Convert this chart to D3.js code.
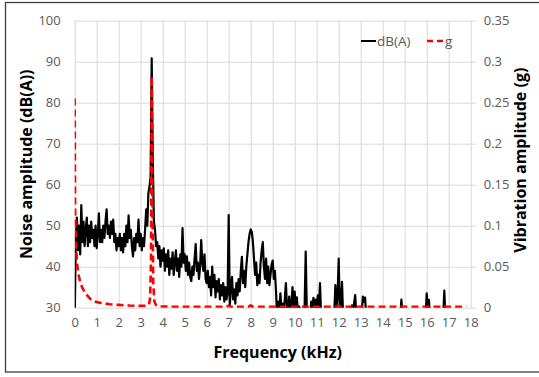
<!DOCTYPE html>
<html>
<head>
<meta charset="utf-8">
<script src="https://cdn.jsdelivr.net/npm/d3@7"></script>
<style>
  body { margin: 0; background: #fff; }
  text { font-family: "Open Sans", sans-serif; }
</style>
</head>
<body>
<figure id="spectrum" style="margin:0"></figure>
<script>
// noise spectrum, [frequency kHz, dB(A)]
const noiseDb = [
  [0,27],[0.05,47],[0.1,52],[0.15,44],[0.2,50],[0.25,43],[0.3,55],[0.35,46],[0.4,51],[0.45,45],
  [0.5,49],[0.55,52],[0.6,45],[0.65,50],[0.7,46],[0.75,51],[0.8,47],[0.85,49],[0.9,45],[0.95,50],
  [1,44.5],[1.05,48],[1.1,53],[1.15,46],[1.2,49],[1.25,46],[1.3,50],[1.35,47],[1.4,51],[1.45,54],
  [1.5,48],[1.55,50],[1.6,47],[1.65,51],[1.7,48],[1.75,51.5],[1.8,46],[1.85,48],[1.9,44],[1.95,47],
  [2,45],[2.05,48],[2.1,44],[2.15,47],[2.2,43.5],[2.25,48],[2.3,45],[2.35,50],[2.4,46],[2.45,52.5],
  [2.5,47],[2.55,49],[2.6,45],[2.65,42.5],[2.7,47],[2.75,44],[2.8,48],[2.85,46],[2.9,51.5],[2.95,45],
  [3,48],[3.05,44],[3.1,47],[3.15,45],[3.2,49],[3.25,54],[3.3,50],[3.35,58],[3.4,59.5],[3.45,62],
  [3.5,90.8],[3.55,66],[3.6,51],[3.65,49],[3.7,45],[3.75,46],[3.8,42],[3.85,45],[3.9,40],[3.95,44],
  [4,41.5],[4.05,44.5],[4.1,39],[4.15,43],[4.2,40],[4.25,44],[4.3,38],[4.35,42],[4.4,39.5],[4.45,43.5],
  [4.5,38],[4.55,41],[4.6,44],[4.65,39],[4.7,42],[4.75,37.5],[4.8,43],[4.85,40],[4.9,49.4],[4.95,41],
  [5,43],[5.05,39],[5.1,42.5],[5.15,38],[5.2,41],[5.25,37.5],[5.3,36.5],[5.35,40],[5.4,38],[5.45,42],
  [5.5,45.5],[5.55,39],[5.6,41],[5.65,37],[5.7,40],[5.75,46.5],[5.8,41],[5.85,39],[5.9,43],[5.95,37],
  [6,36],[6.05,39],[6.1,35],[6.15,37.5],[6.2,33],[6.25,40],[6.3,35],[6.35,38],[6.4,32.5],[6.45,36.5],
  [6.5,34],[6.55,37],[6.6,32],[6.65,35.5],[6.7,33],[6.75,36],[6.8,31.5],[6.85,35],[6.9,32],[6.95,33.5],
  [7,52.6],[7.05,30.5],[7.1,35],[7.15,37.5],[7.2,32],[7.25,34.5],[7.3,31],[7.35,36],[7.4,33],[7.45,37],
  [7.5,34],[7.55,39],[7.6,42.4],[7.65,36],[7.7,39],[7.75,35],[7.8,40],[7.85,43],[7.9,46],[7.95,48],
  [8,49.1],[8.05,48.5],[8.1,46],[8.15,42],[8.2,38],[8.25,41],[8.3,35.5],[8.35,38],[8.4,36],[8.45,41],
  [8.5,44],[8.55,46],[8.6,40],[8.65,37],[8.7,42],[8.75,36],[8.8,40],[8.85,35.5],[8.9,38],[8.95,40.5],
  [9,41.5],[9.05,37],[9.1,39],[9.15,34],[9.2,28],[9.25,31.5],[9.3,29],[9.35,33.5],[9.4,29],[9.45,31],
  [9.5,28.5],[9.55,32],[9.6,36],[9.65,30],[9.7,29],[9.75,32.7],[9.8,28],[9.85,31],[9.9,35],[9.95,30],
  [10,33.9],[10.05,29],[10.1,32.5],[10.15,28],[10.2,30.3],[10.3,29],[10.45,30],[10.5,43.7],[10.55,29],
  [10.7,28],[10.75,31.5],[10.8,29],[10.85,32.4],[10.9,30],[10.95,32],[11,29.5],[11.05,33],[11.1,30],
  [11.15,36],[11.2,28],[11.8,29],[11.85,35.5],[11.9,30],[11.95,33],[12,42],[12.05,29],[12.1,31],
  [12.15,36.3],[12.2,28],[12.55,29],[12.6,30.6],[12.65,29],[12.75,33.1],[12.8,28],[13.05,29],
  [13.1,32.7],[13.15,31.5],[13.2,32.5],[13.25,28],[14.8,28],[14.85,32],[14.9,28],[15.95,28],
  [16,33.5],[16.05,30],[16.1,31.9],[16.15,28],[16.75,28],[16.8,34.2],[16.85,28],[17.8,27]
];

// vibration spectrum, [frequency kHz, g]
const vibG = [
  [0,0.255],[0.02,0.12],[0.06,0.08],[0.1,0.056],[0.16,0.042],[0.25,0.031],[0.35,0.024],[0.5,0.017],
  [0.75,0.0095],[0.9,0.0075],[1.2,0.0058],[1.6,0.0042],[2,0.0034],[2.5,0.0026],[3,0.0022],[3.3,0.0024],
  [3.38,0.004],[3.43,0.013],[3.47,0.06],[3.5,0.282],[3.53,0.14],[3.57,0.03],[3.62,0.008],[3.7,0.003],
  [3.8,0.0015],[5,0.001],[6.9,0.001],[7,0.0025],[7.1,0.001],[7.9,0.001],[8,0.003],[8.1,0.001],
  [11.9,0.001],[12,0.002],[12.1,0.001],[14.8,0.001],[14.9,0.0015],[15,0.001],[16.7,0.001],
  [16.8,0.002],[16.9,0.001],[17.6,0.001],[17.8,0.0025]
];

const freqTicks = d3.range(0, 19);
const dbTicks = [30, 40, 50, 60, 70, 80, 90, 100];
const gTicks = [0, 0.05, 0.1, 0.15, 0.2, 0.25, 0.3, 0.35];

const W = 539, H = 377;
const margin = {top: 20.7, right: 68.3, bottom: 69.3, left: 74.7};
const width = W - margin.left - margin.right,
      height = H - margin.top - margin.bottom;
const labelGrey = "#595959";

const root = d3.select("figure#spectrum")
  .append("svg")
  .attr("width", W)
  .attr("height", H);

// chart frame
root.append("rect")
  .attr("x", 5.5).attr("y", 2.5)
  .attr("width", 545).attr("height", 369.5)
  .attr("fill", "none")
  .attr("stroke", "#3f3f3f")
  .attr("stroke-width", 1.3);

const svg = root.append("g")
  .attr("transform", `translate(${margin.left},${margin.top})`);

const x = d3.scaleLinear().domain([0, 18]).range([0, width]);
const y = d3.scaleLinear().domain([30, 100]).range([height, 0]);
const y2 = d3.scaleLinear().domain([0, 0.35]).range([height, 0]);

// gridlines
svg.append("g")
  .attr("class", "grid")
  .attr("transform", `translate(0,${height})`)
  .call(d3.axisBottom(x).tickValues(freqTicks).tickSize(-height).tickFormat(""));
svg.append("g")
  .attr("class", "grid")
  .call(d3.axisLeft(y).tickValues(dbTicks).tickSize(-width).tickFormat(""));
svg.selectAll(".grid .domain").remove();
svg.selectAll(".grid line").attr("stroke", "#d9d9d9").attr("stroke-width", 1);

// axes
const xAxis = svg.append("g")
  .attr("transform", `translate(0,${height})`)
  .call(d3.axisBottom(x).tickValues(freqTicks).tickSize(0).tickPadding(10).tickFormat(d3.format("d")));
const yAxis = svg.append("g")
  .call(d3.axisLeft(y).tickValues(dbTicks).tickSize(0).tickPadding(14));
const y2Axis = svg.append("g")
  .attr("transform", `translate(${width},0)`)
  .call(d3.axisRight(y2).tickValues(gTicks).tickSize(5).tickPadding(8).tickFormat(d => d === 0 ? "0" : String(d)));

[xAxis, yAxis, y2Axis].forEach(a => {
  a.select(".domain").remove();
  a.selectAll("text").attr("fill", labelGrey).style("font-size", "13px");
  a.selectAll("line").attr("stroke", "#d9d9d9");
});

// lines, clipped to the plot like the original
svg.append("clipPath").attr("id", "plotClip")
  .append("rect").attr("x", 0).attr("y", -2).attr("width", width + 2).attr("height", height + 2);

const plot = svg.append("g").attr("clip-path", "url(#plotClip)");

plot.append("path")
  .datum(noiseDb)
  .attr("fill", "none")
  .attr("stroke", "#000")
  .attr("stroke-width", 2.2)
  .attr("stroke-linejoin", "round")
  .attr("d", d3.line().x(d => x(d[0])).y(d => y(d[1])));

plot.append("path")
  .datum(vibG)
  .attr("fill", "none")
  .attr("stroke", "#ff0000")
  .attr("stroke-width", 2.6)
  .attr("stroke-dasharray", "7,4")
  .attr("stroke-linejoin", "round")
  .attr("d", d3.line().x(d => x(d[0])).y(d => y2(d[1])));

// legend
const legend = root.append("g").attr("class", "legend");
legend.append("line")
  .attr("x1", 361).attr("x2", 376).attr("y1", 41).attr("y2", 41)
  .attr("stroke", "#000").attr("stroke-width", 2);
legend.append("text").attr("x", 377).attr("y", 46)
  .attr("fill", labelGrey).style("font-size", "13.5px").text("dB(A)");
legend.append("line")
  .attr("x1", 427).attr("x2", 444).attr("y1", 41).attr("y2", 41)
  .attr("stroke", "#ff0000").attr("stroke-width", 2.5).attr("stroke-dasharray", "6,4");
legend.append("text").attr("x", 445).attr("y", 46)
  .attr("fill", labelGrey).style("font-size", "13.5px").text("g");

// axis titles
root.append("text")
  .attr("x", margin.left + width / 2 + 5).attr("y", 358)
  .attr("text-anchor", "middle")
  .style("font-size", "16px").style("font-weight", "bold")
  .attr("fill", "#000")
  .text("Frequency (kHz)");

root.append("text")
  .attr("transform", `translate(32,${margin.top + height / 2}) rotate(-90)`)
  .attr("text-anchor", "middle")
  .style("font-size", "16px").style("font-weight", "bold")
  .attr("fill", "#000")
  .text("Noise amplitude (dB(A))");

root.append("text")
  .attr("transform", `translate(526,${margin.top + height / 2 - 4}) rotate(-90)`)
  .attr("text-anchor", "middle")
  .style("font-size", "16px").style("font-weight", "bold")
  .attr("fill", "#000")
  .text("Vibration amplitude (g)");
</script>
</body>
</html>
